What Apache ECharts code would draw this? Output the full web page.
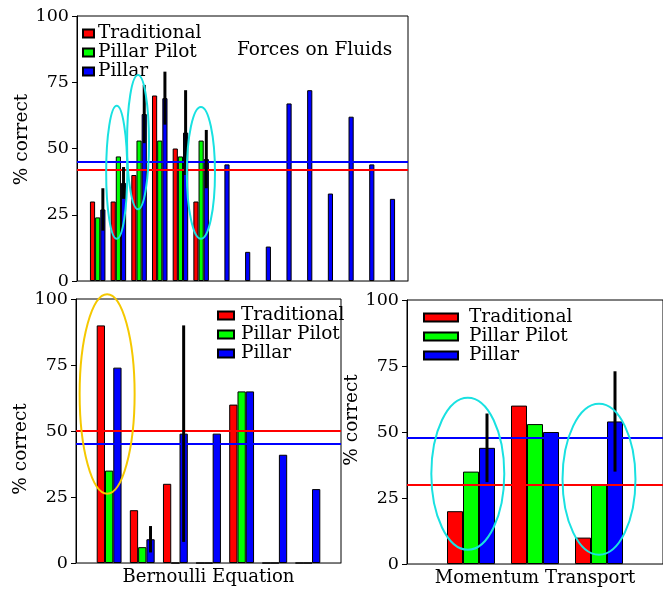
<!DOCTYPE html>
<html>
<head>
<meta charset="utf-8">
<script src="https://cdn.jsdelivr.net/npm/echarts@6/dist/echarts.min.js"></script>
<style>
  html, body { margin: 0; padding: 0; background: #fff; }
  #chart { width: 663px; height: 589px; }
</style>
</head>
<body>
<div id="chart"></div>
<script>
// group values, x position = index + 1
const seriesNames = ['Traditional', 'Pillar Pilot', 'Pillar']

// Forces on Fluids
const forcesTraditional = [30, 30, 40, 70, 50, 30]
const forcesPilot = [24, 47, 53, 53, 47, 53]
const forcesPillar = [27, 37, 63, 69, 56, 46, 44, 11, 13, 67, 72, 33, 62, 44, 31]
const forcesPillarErr = [8, 6, 11, 10, 16, 11]
const forcesMeans = [42, 45] // traditional, pillar
// annotation rings: [x, y, rx, ry] in data units
const forcesRings = [[1.92, 41, 0.51, 25.1], [2.95, 52.4, 0.53, 25.3], [5.99, 40.8, 0.68, 24.9]]

// Bernoulli Equation
const bernTraditional = [90, 20, 30, 0, 60, 0, 0]
const bernPilot = [35, 6, 0, 0, 65, 0, 0]
const bernPillar = [74, 9, 49, 49, 65, 41, 28]
const bernPillarErr = [null, 5, 41, null, null, null, null]
const bernMeans = [50, 45]
const bernRings = [[0.94, 64, 0.83, 37.8]]

// Momentum Transport
const momTraditional = [20, 60, 10]
const momPilot = [35, 53, 30]
const momPillar = [44, 50, 54]
const momPillarErr = [13, null, 19]
const momMeans = [30, 48]
const momRings = [[0.95, 34.2, 0.57, 28.8], [3.0, 32.1, 0.57, 28.6]]

const FONT = 'DejaVu Serif'
const colors = ['#ff0000', '#00ff00', '#0000ff']

const panels = [
  { values: [forcesTraditional, forcesPilot, forcesPillar], err: forcesPillarErr, means: forcesMeans, rings: forcesRings, ringColor: '#19e1e1', max: 16, name: '' },
  { values: [bernTraditional, bernPilot, bernPillar], err: bernPillarErr, means: bernMeans, rings: bernRings, ringColor: '#f5c800', max: 8, name: 'Bernoulli Equation' },
  { values: [momTraditional, momPilot, momPillar], err: momPillarErr, means: momMeans, rings: momRings, ringColor: '#19e1e1', max: 4, name: 'Momentum Transport' }
]

const grids = [
  { left: 77, top: 16, right: 255, bottom: 308 },
  { left: 76, top: 299, right: 322, bottom: 26 },
  { left: 407, top: 300, right: -10, bottom: 25 }
]
const yNamePadding = [[0, 0, 0, 18], [0, 36, 0, 0], [0, 0, 0, 24]]

const series = []
panels.forEach((p, idx) => {
  p.values.forEach((vals, k) => {
    const s = {
      name: seriesNames[k],
      type: 'bar',
      xAxisIndex: idx,
      yAxisIndex: idx,
      barWidth: '25%',
      barGap: '0%',
      data: vals.map((v, i) => [i + 1, v]),
      itemStyle: { color: colors[k], borderColor: '#000', borderWidth: 1 }
    }
    if (k === 0 || k === 2) {
      s.markLine = {
        silent: true,
        symbol: 'none',
        label: { show: false },
        lineStyle: { color: colors[k], width: 2, type: 'solid' },
        data: [{ yAxis: p.means[k === 0 ? 0 : 1] }]
      }
    }
    series.push(s)
  })
  // error bars on the Pillar bars
  series.push({
    type: 'custom',
    xAxisIndex: idx,
    yAxisIndex: idx,
    z: 5,
    clip: false,
    encode: { x: 0, y: [1, 2] },
    data: p.err.map((e, i) => e ? [i + 1, p.values[2][i] - e, p.values[2][i] + e] : null).filter(Boolean),
    renderItem(params, api) {
      const off = api.size([0.25, 0])[0]
      const lo = api.coord([api.value(0), api.value(1)])
      const hi = api.coord([api.value(0), api.value(2)])
      return {
        type: 'line',
        shape: { x1: lo[0] + off, y1: lo[1], x2: hi[0] + off, y2: hi[1] },
        style: { stroke: '#000', lineWidth: 3 }
      }
    }
  })
  // rings
  series.push({
    type: 'custom',
    xAxisIndex: idx,
    yAxisIndex: idx,
    z: 6,
    clip: false,
    encode: { x: 0, y: 1 },
    data: p.rings,
    renderItem(params, api) {
      const c = api.coord([api.value(0), api.value(1)])
      const s = api.size([api.value(2), api.value(3)])
      return {
        type: 'ellipse',
        shape: { cx: c[0], cy: c[1], rx: s[0], ry: s[1] },
        style: { fill: 'none', stroke: p.ringColor, lineWidth: 2 }
      }
    }
  })
})

const legendBase = {
  data: seriesNames,
  orient: 'vertical',
  icon: 'rect',
  itemHeight: 8,
  itemGap: 0,
  padding: 0,
  selectedMode: false
}

const option = {
  animation: false,
  title: {
    text: 'Forces on Fluids',
    left: 237,
    top: 41,
    padding: 0,
    textStyle: { fontFamily: FONT, fontSize: 18.5, fontWeight: 'normal', color: '#000' }
  },
  legend: [
    Object.assign({}, legendBase, { left: 82, top: 24, itemWidth: 11, textStyle: { fontFamily: FONT, fontSize: 18.5, lineHeight: 18.5, color: '#000', padding: [0, 0, 0, -1] } }),
    Object.assign({}, legendBase, { left: 217, top: 306, itemWidth: 16, textStyle: { fontFamily: FONT, fontSize: 18.5, lineHeight: 18.5, color: '#000', padding: [0, 0, 0, 2] } }),
    Object.assign({}, legendBase, { left: 423, top: 308, itemWidth: 34, textStyle: { fontFamily: FONT, fontSize: 18.5, lineHeight: 18.5, color: '#000', padding: [0, 0, 0, 6] } })
  ],
  grid: grids.map(g => Object.assign({ show: true, borderColor: '#000', borderWidth: 1 }, g)),
  xAxis: panels.map((p, idx) => ({
    type: 'value',
    gridIndex: idx,
    min: 0,
    max: p.max,
    name: p.name,
    nameLocation: 'middle',
    nameGap: 5,
    nameTextStyle: { fontFamily: FONT, fontSize: 18, color: '#000', verticalAlign: 'top' },
    axisLine: { show: true, lineStyle: { color: '#777', width: 1 } },
    axisTick: { show: false },
    axisLabel: { show: false },
    splitLine: { show: false }
  })),
  yAxis: panels.map((p, idx) => ({
    type: 'value',
    gridIndex: idx,
    min: 0,
    max: 100,
    interval: 25,
    name: '% correct',
    nameLocation: 'middle',
    nameGap: 44,
    nameRotate: 90,
    nameTextStyle: { fontFamily: FONT, fontSize: 18.5, color: '#000', padding: yNamePadding[idx] },
    axisLine: { show: true, lineStyle: { color: '#000', width: 1 } },
    axisTick: { show: true, length: 5, lineStyle: { color: '#000' } },
    axisLabel: { fontFamily: FONT, fontSize: 17.5, color: '#000', margin: 8 },
    splitLine: { show: false }
  })),
  series: series
}

const myChart = echarts.init(document.getElementById('chart'))
myChart.setOption(option)
</script>
</body>
</html>
